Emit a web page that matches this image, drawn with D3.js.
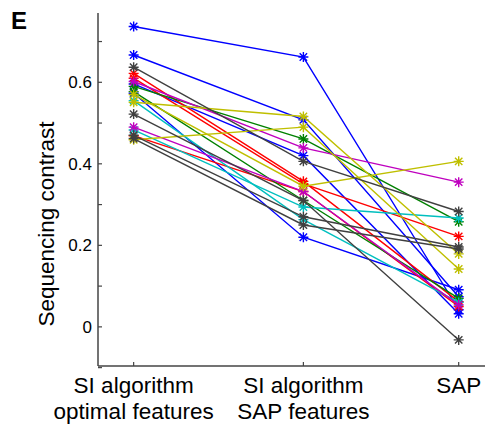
<!DOCTYPE html>
<html><head><meta charset="utf-8">
<script src="https://cdn.jsdelivr.net/npm/d3@7"></script>
<style>body{margin:0;background:#fff}svg{display:block;font-family:"Liberation Sans",Arial,sans-serif}</style>
</head><body><svg id="c" width="485" height="429"></svg>
<script>
const categories = [["SI algorithm","optimal features"],["SI algorithm","SAP features"],["SAP"]];
const catPositions = [1, 2, 2.915];
const seriesColors = ["#0000FF","#0000FF","#0000FF","#0000FF",
  "#FF0000","#FF0000","#FF0000",
  "#008000","#008000",
  "#00BFBF","#00BFBF",
  "#BF00BF","#BF00BF",
  "#BFBF00","#BFBF00","#BFBF00",
  "#404040","#404040","#404040","#404040"];
const siOptimal = [0.737,0.667,0.596,0.573, 0.622,0.610,0.469, 0.590,0.577, 0.483,0.555, 0.602,0.490, 0.551,0.459,0.570, 0.637,0.522,0.462,0.470];
const siSap     = [0.662,0.508,0.420,0.220, 0.357,0.351,0.332, 0.461,0.310, 0.294,0.263, 0.439,0.332, 0.516,0.490,0.345, 0.406,0.310,0.250,0.270];
const sapVals   = [0.042,0.074,0.032,0.091, 0.062,0.222,0.050, 0.258,0.070, 0.267,0.060, 0.355,0.054, 0.179,0.142,0.406, 0.283,-0.032,0.191,0.196];
const yTickLabels = [0, 0.2, 0.4, 0.6];
const yMinorTicks = [-0.1,0.1,0.3,0.5,0.7];

const svg = d3.select("#c");
const x = d3.scaleLinear().domain([0.79, 3.07]).range([98, 485]);
const y = d3.scaleLinear().domain([-0.096, 0.77]).range([366, 13]);
const axisColor = "#444";

svg.append("line").attr("x1",x(0.79)).attr("x2",x(3.07)).attr("y1",366).attr("y2",366).attr("stroke",axisColor).attr("stroke-width",1.5);
svg.append("line").attr("x1",x(0.79)).attr("x2",x(0.79)).attr("y1",y(0.77)).attr("y2",366).attr("stroke",axisColor).attr("stroke-width",1.5);

const yAll = yTickLabels.concat(yMinorTicks);
svg.selectAll(".yt").data(yAll).enter().append("line")
  .attr("x1",x(0.79)).attr("x2",x(0.79)+4).attr("y1",d=>y(d)).attr("y2",d=>y(d))
  .attr("stroke",axisColor).attr("stroke-width",1.2);
svg.selectAll(".yl").data(yTickLabels).enter().append("text")
  .attr("x",x(0.79)-6).attr("y",d=>y(d)).attr("dy","0.36em")
  .attr("text-anchor","end").attr("font-size",17).attr("fill","#000")
  .text(d=>d3.format("")(d));

svg.selectAll(".xt").data(catPositions).enter().append("line")
  .attr("x1",d=>x(d)).attr("x2",d=>x(d)).attr("y1",366).attr("y2",362)
  .attr("stroke",axisColor).attr("stroke-width",1.2);
categories.forEach((lines,i)=>{
  const t = svg.append("text").attr("text-anchor","middle").attr("font-size",22.5).attr("fill","#000");
  lines.forEach((ln,j)=>{
    t.append("tspan").attr("x",x(catPositions[i])).attr("y",393 + j*26).text(ln);
  });
});

svg.append("text").attr("transform","translate(54,224) rotate(-90)")
  .attr("text-anchor","middle").attr("font-size",22.5).attr("fill","#000").text("Sequencing contrast");
svg.append("text").attr("x",11).attr("y",29).attr("font-size",24).attr("font-weight","bold").text("E");

const rows = seriesColors.map((c,i)=>({color:c, vals:[siOptimal[i], siSap[i], sapVals[i]]}));
const line = d3.line().x((d,i)=>x(catPositions[i])).y(d=>y(d));
const r = 5, rd = 3.7;
const star = `M${-r},0L${r},0M0,${-r}L0,${r}M${-rd},${-rd}L${rd},${rd}M${-rd},${rd}L${rd},${-rd}`;
const g = svg.append("g");
rows.forEach(row=>{
  g.append("path").attr("d",line(row.vals)).attr("fill","none").attr("stroke",row.color).attr("stroke-width",1.4);
  g.selectAll(null).data(row.vals).enter().append("path")
    .attr("transform",(d,i)=>`translate(${x(catPositions[i])},${y(d)})`)
    .attr("d",star).attr("stroke",row.color).attr("stroke-width",1.4).attr("fill","none");
});
</script></body></html>
